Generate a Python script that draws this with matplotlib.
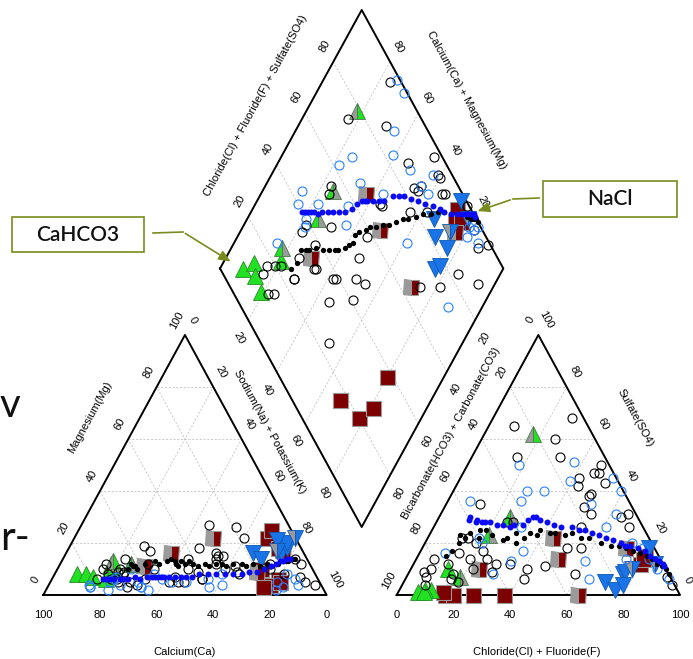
import matplotlib
matplotlib.use('Agg')
import matplotlib.pyplot as plt
from matplotlib.patches import Rectangle
import numpy as np

plt.rcParams['font.family'] = ['Liberation Sans', 'DejaVu Sans']

# ---------------- data (percent of meq) : Na+K, Mg, HCO3+CO3, SO4 ----------------
# black open circles (samples)
circ_na = [24, 31, 16, 46, 54, 60, 55, 23, 45, 56, 65, 31, 29, 47, 33, 28, 42, 50, 54, 53,
           45, 24, 22, 16, 19, 21, 74, 81, 85, 94, 87, 90, 82, 53, 22, 22, 26, 34, 28, 16,
           43, 24, 46, 53, 55, 44, 64, 75, 62, 59]
circ_mg = [8, 12, 10, 18, 15, 22, 26, 6, 27, 15, 8, 4, 17, 5, 6, 3, 5, 9, 14, 6,
           5, 5, 9, 12, 8, 6, 12, 8, 12, 4, 7, 5, 14, 6, 10, 14, 19, 10, 5, 6,
           7, 9, 10, 16, 12, 14, 9, 10, 11, 10]
circ_hco3 = [4, 14, 26, 13, 3, 5, 13, 45, 31, 22, 6, 53, 62, 49, 67, 76, 62, 54, 52, 59,
             68, 86, 88, 83, 80, 78, 33, 26, 17, 12, 5, 1, 3, 76, 64, 61, 70, 66, 76, 86,
             61, 47, 42, 16, 15, 31, 7, 1, 16, 5]
circ_so4 = [68, 60, 65, 45, 50, 47, 38, 28, 53, 26, 30, 35, 20, 10, 14, 8, 9, 12, 6, 12,
            10, 7, 4, 10, 14, 6, 8, 18, 34, 39, 26, 4, 31, 5, 22, 14, 16, 22, 12, 9,
            17, 28, 11, 53, 42, 18, 47, 7, 31, 43]

# blue open circles (samples)
bcirc_na = [26, 31, 35, 39, 25, 22, 48, 57, 55, 33, 43, 14, 15, 22, 33, 36, 21, 22, 15, 61,
            88, 80, 82, 83, 59, 81, 86]
bcirc_mg = [10, 5, 8, 6, 4, 7, 5, 3, 6, 3, 5, 4, 3, 6, 3, 2, 5, 2, 3, 4,
            4, 5, 8, 3, 8, 2, 6]
bcirc_hco3 = [1, 1, 12, 17, 32, 38, 14, 7, 13, 34, 28, 56, 60, 53, 43, 47, 60, 62, 75, 29,
              27, 4, 3, 1, 12, 7, 4]
bcirc_so4 = [45, 40, 51, 44, 50, 36, 35, 31, 26, 40, 40, 36, 20, 13, 26, 17, 22, 8, 16, 6,
             13, 18, 10, 6, 14, 20, 14]

# black filled dots (mixing path)
kdot_na = [25, 26, 25, 27, 28, 30, 33, 35, 37, 38, 40, 41, 42, 41, 42, 44, 45, 47, 49, 51,
           53, 55, 57, 59, 61, 64, 66, 68, 71, 73, 75, 77, 79, 80, 81, 82]
kdot_mg = [10, 11, 12, 11, 10, 12, 13, 12, 13, 14, 13, 12, 13, 12, 11, 12, 13, 12, 11, 12,
           11, 12, 12, 11, 12, 12, 11, 12, 11, 12, 11, 12, 13, 13, 14, 14]
kdot_hco3 = [75, 72, 68, 66, 65, 62, 60, 58, 56, 55, 52, 50, 48, 46, 44, 41, 39, 37, 34, 32,
             29, 26, 24, 21, 18, 15, 12, 10, 8, 6, 4, 3, 2, 1, 0, 0]
kdot_so4 = [15, 17, 20, 23, 22, 24, 22, 25, 25, 23, 21, 22, 20, 24, 22, 24, 23, 25, 24, 24,
            23, 24, 22, 22, 20, 19, 19, 18, 17, 16, 15, 14, 12, 11, 10, 8]

# blue filled dots (mixing path)
udot_na = [18, 19, 20, 21, 22, 24, 25, 27, 29, 31, 33, 35, 36, 37, 38, 39, 41, 43, 45, 47,
           49, 51, 54, 57, 60, 63, 66, 68, 71, 73, 75, 76, 77, 78, 79, 80]
udot_mg = [6, 6, 6, 6, 6, 6, 6, 6, 7, 6, 7, 7, 7, 7, 7, 7, 7, 7, 7, 7,
           7, 8, 8, 8, 8, 8, 8, 9, 9, 10, 11, 12, 13, 13, 14, 14]
udot_hco3 = [60, 59, 58, 57, 56, 55, 53, 51, 49, 47, 45, 42, 39, 37, 36, 35, 33, 31, 29, 25,
             23, 21, 19, 17, 15, 13, 11, 10, 8, 6, 4, 3, 2, 1, 0, 0]
udot_so4 = [29, 30, 28, 29, 28, 28, 28, 27, 27, 26, 27, 27, 29, 30, 30, 29, 28, 27, 26, 26,
            25, 25, 24, 23, 22, 21, 20, 19, 19, 18, 17, 15, 14, 13, 12, 11]

# dark red squares
red_na = [80, 68, 78, 81, 72, 74, 76, 68]
red_mg = [6, 22, 4, 5, 10, 18, 3, 25]
red_hco3 = [62, 83, 80, 73, 5, 8, 6, 83]
red_so4 = [0, 0, 0, 0, 15, 12, 14, 1]

# grey / dark red split squares
split_na = [37, 49, 71, 30, 76]
split_mg = [16, 22, 9, 11, 17]
split_hco3 = [34, 36, 36, 66, 10]
split_so4 = [22, 14, 0, 10, 18]

# green triangles (full)
gr_na = [8, 11, 14, 19, 20]
gr_mg = [8, 8, 7, 6, 10]
gr_hco3 = [92, 87, 89, 90, 77]
gr_so4 = [1, 2, 2, 1, 10]
# green | grey triangles
grs_na = [18, 25, 25]
grs_mg = [12, 12, 12]
grs_hco3 = [74, 56, 45]
grs_so4 = [7, 23, 30]
# grey | green triangles
grs2_na = [18]
grs2_mg = [13]
grs2_hco3 = [21]
grs2_so4 = [62]

# blue down triangles (full)
bt_na = [76, 77, 76, 66, 72, 70]
bt_mg = [16, 18, 20, 16, 21, 14]
bt_hco3 = [24, 22, 16, 15, 2, 18]
bt_so4 = [5, 2, 8, 9, 18, 4]
# grey | blue down triangles
bts_na = [74, 78]
bts_mg = [17, 22]
bts_hco3 = [12, 3]
bts_so4 = [10, 12]

ticks = [0, 20, 40, 60, 80, 100]
inner = [20, 40, 60, 80]

# ---------------- geometry ----------------
fig = plt.figure(figsize=(6.93, 6.59), dpi=100)
ax = fig.add_axes([0, 0, 1, 1])
ax.set_xlim(0, 693)
ax.set_ylim(659, 0)
ax.axis('off')

W = 283.3
H = 260.0
CX0 = 43.3
AX0 = 396.7
BASE = 595.0
DTOP = (361.7, 10.0)
DHW = W / 2
DHH = 258.5
DL = (DTOP[0] - DHW, DTOP[1] + DHH)
ANG = np.degrees(np.arctan2(H, W / 2))
CA, SA = np.cos(np.radians(ANG)), np.sin(np.radians(ANG))


def cat_xy(na, mg):
    na = np.asarray(na, float); mg = np.asarray(mg, float)
    return CX0 + W * (na + mg / 2) / 100, BASE - H * mg / 100


def an_xy(cl, so4):
    cl = np.asarray(cl, float); so4 = np.asarray(so4, float)
    return AX0 + W * (cl + so4 / 2) / 100, BASE - H * so4 / 100


def dia_xy(na, s):
    na = np.asarray(na, float); s = np.asarray(s, float)
    return DL[0] + DHW * (na + s) / 100, DL[1] + DHH * (na - s) / 100


GRID = dict(color='#c4c4c4', lw=0.6, ls=(0, (2.5, 2)), zorder=1)
EDGE = dict(color='black', lw=1.4, zorder=2)
TK = dict(fontsize=8, ha='center', va='center', zorder=5)

# grids
for v in inner:
    for f in (cat_xy, an_xy):
        x, y = f([0, 100 - v], [v, v]); ax.plot(x, y, **GRID)
        x, y = f([v, v], [0, 100 - v]); ax.plot(x, y, **GRID)
        x, y = f([100 - v, 0], [0, 100 - v]); ax.plot(x, y, **GRID)
    x, y = dia_xy([v, v], [0, 100]); ax.plot(x, y, **GRID)
    x, y = dia_xy([0, 100], [v, v]); ax.plot(x, y, **GRID)

# outlines
for f in (cat_xy, an_xy):
    x, y = f([0, 100, 0, 0], [0, 0, 100, 0]); ax.plot(x, y, **EDGE)
x, y = dia_xy([0, 0, 100, 100, 0], [0, 100, 100, 0, 0]); ax.plot(x, y, **EDGE)

# tick labels - cation triangle
for v in ticks:
    x, y = cat_xy(100 - v, 0); ax.text(x, y + 20, str(v), **TK)
    x, y = cat_xy(0, v); ax.text(x - 17 * CA, y - 17 * SA, str(v), rotation=ANG, **TK)
    x, y = cat_xy(v, 100 - v); ax.text(x + 17 * CA, y - 17 * SA, str(v), rotation=-ANG, **TK)
# anion triangle
for v in ticks:
    x, y = an_xy(v, 0); ax.text(x, y + 20, str(v), **TK)
    x, y = an_xy(0, 100 - v); ax.text(x - 17 * CA, y - 17 * SA, str(v), rotation=ANG, **TK)
    x, y = an_xy(100 - v, v); ax.text(x + 17 * CA, y - 17 * SA, str(v), rotation=-ANG, **TK)
# diamond
for v in inner:
    x, y = dia_xy(0, v); ax.text(x - 18 * CA, y - 18 * SA, str(v), rotation=ANG, **TK)
    x, y = dia_xy(100 - v, 100); ax.text(x + 17 * CA, y - 17 * SA, str(v), rotation=-ANG, **TK)
    x, y = dia_xy(v, 0); ax.text(x - 20 * CA, y + 20 * SA, str(v), rotation=-ANG, **TK)
    x, y = dia_xy(100, 100 - v); ax.text(x + 20 * CA, y + 20 * SA, str(v), rotation=ANG, **TK)

# axis titles
TT = dict(fontsize=8, ha='center', va='center', zorder=5)
ax.text(185, 652, 'Calcium(Ca)', **TT)
ax.text(90, 417, 'Magnesium(Mg)', rotation=ANG, **TT)
ax.text(270, 432, 'Sodium(Na) + Potassium(K)', rotation=-ANG, **TT)
ax.text(537, 652, 'Chloride(Cl) + Fluoride(F)', **TT)
ax.text(635, 418, 'Sulfate(SO4)', rotation=-ANG, **TT)
ax.text(451, 433, 'Bicarbonate(HCO3) + Carbonate(CO3)', rotation=ANG, **TT)
ax.text(256, 106, 'Chloride(Cl) + Fluoride(F) + Sulfate(SO4)', rotation=ANG, **TT)
ax.text(467, 100, 'Calcium(Ca) + Magnesium(Mg)', rotation=-ANG, **TT)


def plot_samples(na, mg, hco3, so4, **kw):
    na = np.asarray(na, float); mg = np.asarray(mg, float)
    hco3 = np.asarray(hco3, float); so4 = np.asarray(so4, float)
    cl = 100 - hco3 - so4
    s = 100 - hco3
    x1, y1 = cat_xy(na, mg)
    x2, y2 = an_xy(cl, so4)
    x3, y3 = dia_xy(na, s)
    ax.plot(np.r_[x1, x2, x3], np.r_[y1, y2, y3], ls='none', **kw)


GREEN = '#22e022'
GREY = '#9a9a9a'
DRED = '#7d0000'
BLUE_T = '#1a74e8'

plot_samples(red_na, red_mg, red_hco3, red_so4, marker='s', ms=10.8, mfc=DRED,
             mec='#9a9a9a', mew=0.8, zorder=6)
plot_samples(split_na, split_mg, split_hco3, split_so4, marker='s', ms=10.8, mfc=GREY,
             mfcalt=DRED, fillstyle='left', mec='#9a9a9a', mew=0.8, zorder=6)
plot_samples(bt_na, bt_mg, bt_hco3, bt_so4, marker='v', ms=12, mfc=BLUE_T,
             mec='#1058b0', mew=0.6, zorder=7)
plot_samples(bts_na, bts_mg, bts_hco3, bts_so4, marker='v', ms=12, mfc=GREY,
             mfcalt=BLUE_T, fillstyle='left', mec='#1058b0', mew=0.6, zorder=7)
plot_samples(gr_na, gr_mg, gr_hco3, gr_so4, marker='^', ms=12, mfc=GREEN,
             mec='#2a8a2a', mew=0.6, zorder=7)
plot_samples(grs_na, grs_mg, grs_hco3, grs_so4, marker='^', ms=12, mfc=GREEN,
             mfcalt=GREY, fillstyle='left', mec='#4a7a4a', mew=0.6, zorder=7)
plot_samples(grs2_na, grs2_mg, grs2_hco3, grs2_so4, marker='^', ms=12, mfc=GREY,
             mfcalt=GREEN, fillstyle='left', mec='#4a7a4a', mew=0.6, zorder=7)
plot_samples(circ_na, circ_mg, circ_hco3, circ_so4, marker='o', ms=6.5, mfc='none',
             mec='black', mew=0.8, zorder=8)
plot_samples(bcirc_na, bcirc_mg, bcirc_hco3, bcirc_so4, marker='o', ms=6.5, mfc='none',
             mec='#2a80ff', mew=0.8, zorder=8)
plot_samples(kdot_na, kdot_mg, kdot_hco3, kdot_so4, marker='o', ms=3.8, mfc='black',
             mec='black', mew=0, zorder=9)
plot_samples(udot_na, udot_mg, udot_hco3, udot_so4, marker='o', ms=4.3, mfc='#0a0af5',
             mec='#0a0af5', mew=0, zorder=10)

# annotation boxes
OL = '#788c1e'
ax.add_patch(Rectangle((11.7, 216.7), 132.6, 35, fill=True, fc='white', ec=OL, lw=1.2, zorder=11))
ax.text(78, 235, 'CaHCO3', fontsize=15, family=['Lato', 'DejaVu Sans'], weight='semibold',
        ha='center', va='center', color='#111111', zorder=12)
ax.plot([153, 183], [233, 232], color=OL, lw=1.2, zorder=11)
ax.annotate('', xy=(233, 263), xytext=(183, 232),
            arrowprops=dict(arrowstyle='-|>,head_length=0.7,head_width=0.3', color=OL, lw=1.2),
            zorder=11)

ax.add_patch(Rectangle((543.3, 180.7), 134, 36, fill=True, fc='white', ec=OL, lw=1.2, zorder=11))
ax.text(610, 199, 'NaCl', fontsize=15, family=['Lato', 'DejaVu Sans'], weight='semibold',
        ha='center', va='center', color='#111111', zorder=12)
ax.plot([539, 513], [198, 199], color=OL, lw=1.2, zorder=11)
ax.annotate('', xy=(475, 212), xytext=(513, 199),
            arrowprops=dict(arrowstyle='-|>,head_length=0.7,head_width=0.3', color=OL, lw=1.2),
            zorder=11)

# fragments of slide text at the left edge
ax.text(0, 417, 'v', fontsize=29, family=['Lato', 'DejaVu Sans'], ha='left', va='baseline',
        color='#111111')
ax.text(0, 550, 'r-', fontsize=29, family=['Lato', 'DejaVu Sans'], ha='left', va='baseline',
        color='#111111')

fig.savefig('out.png', dpi=100)
